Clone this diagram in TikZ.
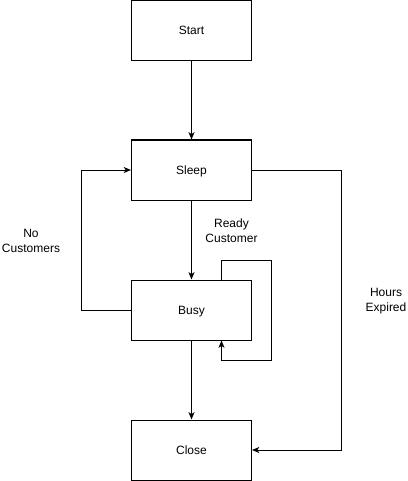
\documentclass[tikz,border=0pt]{standalone}
\usepackage{fontspec}
\setmainfont{Liberation Sans}
\usetikzlibrary{arrows.meta}
\begin{document}
\begin{tikzpicture}[x=0.75pt,y=-0.75pt,
  state/.style={draw,line width=0.75pt,minimum width=90pt,minimum height=45pt,inner sep=0pt,text height=6.4pt,text depth=0pt,font=\fontsize{9pt}{10.5pt}\selectfont},
  conn/.style={line width=0.75pt,-{Stealth[length=5.5pt,width=4.5pt,inset=1.5pt]}},
  lbl/.style={align=center,inner sep=0pt,font=\fontsize{9pt}{11.25pt}\selectfont}]
\useasboundingbox (0,0) rectangle (407,481);
\node[state] (start) at (191.5,30.5) {Start};
\node[state] (sleep) at (191.5,170) {Sleep};
\node[state] (busy) at (191.5,310) {Busy};
\node[state] (close) at (191.5,450) {Close};
\coordinate (lt) at (81.5,310);
\coordinate (lb) at (81.5,170);
\coordinate (s1) at (221.5,260);
\coordinate (s2) at (271.5,260);
\coordinate (s3) at (271.5,360);
\coordinate (s4) at (221.5,360);
\coordinate (r1) at (341.5,170);
\coordinate (r2) at (341.5,450);
\draw[conn] (start) -- (sleep);
\draw[conn] (sleep) -- (busy);
\draw[conn] (busy) -- (close);
\draw[conn] (busy.west) -- (lt) -- (lb) -- (sleep.west);
\draw[conn] (busy.north -| s1) -- (s1) -- (s2) -- (s3) -- (s4) -- (busy.south -| s4);
\draw[conn] (sleep.east) -- (r1) -- (r2) -- (close.east);
\node[lbl] (rc) at (231.5,231) {Ready\\Customer};
\node[lbl] (nc) at (31,241) {No\\Customers};
\node[lbl] (he) at (386,301) {Hours\\Expired};
\end{tikzpicture}
\end{document}
